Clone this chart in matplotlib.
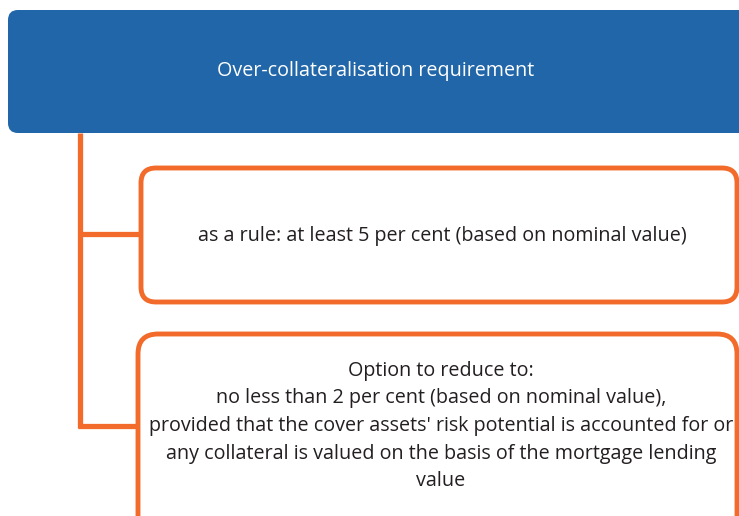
import matplotlib
matplotlib.use("Agg")
import matplotlib.pyplot as plt
from matplotlib.patches import FancyBboxPatch

### content ###
header = "Over-collateralisation requirement"
box_texts = [
    "as a rule: at least 5 per cent (based on nominal value)",
    "Option to reduce to:\nno less than 2 per cent (based on nominal value),\n"
    "provided that the cover assets' risk potential is accounted for or\n"
    "any collateral is valued on the basis of the mortgage lending\nvalue",
]

blue = "#2166a8"
orange = "#f26b2a"
W, H = 739, 516

fig = plt.figure(figsize=(W / 100, H / 100), dpi=100)
ax = fig.add_axes([0, 0, 1, 1])
ax.set_xlim(0, W)
ax.set_ylim(H, 0)
ax.axis("off")
plt.rcParams["font.family"] = ["Open Sans", "DejaVu Sans"]
fs = 14.2

# header box (cut off on the right like the source)
hb = FancyBboxPatch((8, 10), 770, 123, boxstyle="round,pad=0,rounding_size=10",
                    fc=blue, ec="none")
ax.add_patch(hb)
ax.text(376, 71, header, color="white", fontsize=fs, ha="center", va="center")

# connector lines
ax.plot([79.5, 79.5], [133, 428], color=orange, lw=3.8, solid_capstyle="butt")
ax.plot([79.5, 141], [234, 234], color=orange, lw=3.8, solid_capstyle="butt")
ax.plot([77.6, 138], [426, 426], color=orange, lw=3.8, solid_capstyle="butt")

# child boxes
b1 = FancyBboxPatch((141, 168), 596, 134, boxstyle="round,pad=0,rounding_size=15",
                    fc="white", ec=orange, lw=3.5)
ax.add_patch(b1)
ax.text(442, 236, box_texts[0], color="#231f20", fontsize=fs, ha="center", va="center")

b2 = FancyBboxPatch((138, 334), 599, 230, boxstyle="round,pad=0,rounding_size=20",
                    fc="white", ec=orange, lw=3.5)
ax.add_patch(b2)
ax.text(441, 426, box_texts[1], color="#231f20", fontsize=fs, ha="center", va="center",
        linespacing=1.5)

fig.savefig("out.png", dpi=100)
